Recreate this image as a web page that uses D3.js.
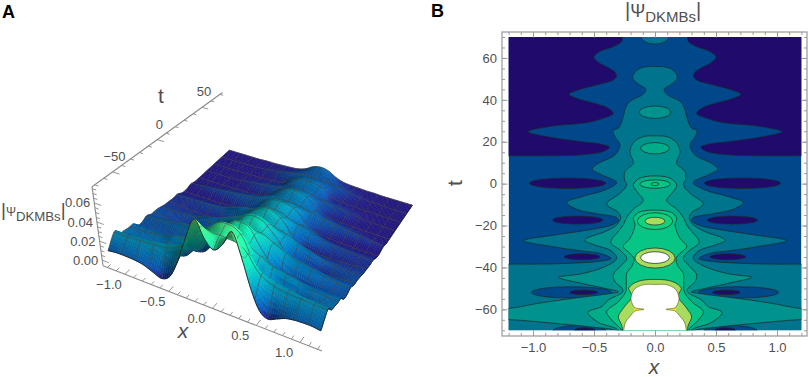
<!DOCTYPE html>
<html lang="en">
<head>
<meta charset="UTF-8">
<title>DKMBs surface and contour</title>
<script src="https://d3js.org/d3.v7.min.js"></script>
<style>
    body { margin: 0; background: #fff; font-family: "Liberation Sans", Arial, sans-serif; }
    text { fill: #505050; font-size: 13px; }
    .letter { fill: #000; font-weight: bold; font-size: 18px; }
    .axis text { fill: #505050; font-size: 13px; font-family: "Liberation Sans", Arial, sans-serif; }
    .axis line { stroke: #9a9a9a; }
    .contour { stroke: #1c2a2a; stroke-width: 0.9; stroke-opacity: 0.8; }
</style>
</head>
<body>
<svg width="809" height="377"></svg>
<script>
// surface heights, right half only (the picture is mirror symmetric in x)
const surfaceX = [0, 0.1, 0.2, 0.3, 0.4, 0.5, 0.6, 0.7, 0.8, 0.9, 1.0, 1.1, 1.2];
const surfaceT = [70, 65, 60, 55, 50, 45, 40, 35, 30, 25, 20, 15, 10, 5, 0, -5, -10, -15, -20, -25, -30, -35, -40, -45, -50, -55, -60, -65, -70];
const surfaceZ = [
    [.018, .016, .0105, .0075, .0065, .006, .0055, .0055, .005, .005, .005, .005, .005],
    [.015, .0145, .012, .0095, .0078, .0068, .006, .0058, .0055, .0052, .005, .005, .005],
    [.0145, .014, .013, .012, .0105, .0085, .0072, .0062, .0058, .0054, .005, .005, .005],
    [.0185, .018, .0145, .0105, .0082, .007, .0062, .0057, .0054, .0052, .005, .005, .005],
    [.0195, .019, .016, .0087, .0072, .0065, .006, .0057, .0055, .0052, .005, .005, .005],
    [.0175, .0165, .0135, .0118, .0105, .0095, .0082, .0072, .0062, .0056, .0052, .005, .005],
    [.02, .0195, .016, .0125, .0105, .0092, .0082, .0068, .0058, .0054, .005, .005, .005],
    [.026, .0245, .019, .0115, .0078, .0065, .0058, .0056, .0055, .0053, .0052, .005, .005],
    [.022, .0215, .0188, .0155, .0125, .011, .0095, .0085, .0075, .0065, .0058, .0052, .005],
    [.022, .0215, .0195, .0175, .0148, .013, .012, .0112, .0105, .0098, .009, .0078, .0065],
    [.027, .0265, .023, .0148, .0115, .0095, .0082, .007, .0062, .0058, .0055, .0052, .005],
    [.031, .0295, .0245, .0155, .0085, .0068, .006, .0058, .0057, .0056, .0055, .0055, .0055],
    [.029, .0275, .0225, .02, .0185, .0155, .0125, .011, .0102, .0096, .0092, .0088, .0085],
    [.0295, .0285, .0265, .0215, .018, .0145, .012, .0105, .0098, .0092, .0088, .0085, .0082],
    [.038, .035, .028, .0165, .0082, .0075, .0072, .0072, .0072, .0074, .0078, .0085, .009],
    [.033, .0325, .03, .0245, .0175, .0135, .012, .0108, .0102, .0098, .0095, .0095, .0095],
    [.0335, .0325, .0295, .0275, .0245, .021, .0185, .0155, .0125, .0115, .011, .011, .011],
    [.043, .041, .035, .0265, .016, .0115, .0098, .009, .0088, .0095, .0105, .0115, .012],
    [.044, .042, .034, .0258, .0145, .0115, .0105, .0098, .01, .0105, .011, .0115, .012],
    [.039, .039, .037, .0325, .0285, .0245, .0225, .021, .0195, .0178, .0165, .0155, .0145],
    [.044, .043, .04, .033, .0275, .0225, .02, .0182, .0165, .0148, .0135, .0128, .0125],
    [.052, .05, .037, .0255, .012, .0075, .0068, .0072, .0088, .0105, .0118, .0125, .0125],
    [.044, .043, .037, .031, .0245, .0215, .0205, .0195, .0188, .0182, .018, .0178, .0178],
    [.051, .049, .041, .035, .031, .0285, .0265, .0245, .021, .0195, .0185, .018, .018],
    [.062, .06, .05, .0295, .0245, .0155, .0135, .0135, .0148, .0165, .0178, .0185, .019],
    [.064, .062, .054, .0375, .0305, .0275, .025, .0232, .022, .021, .0205, .02, .02],
    [.06, .058, .055, .05, .039, .0335, .0305, .029, .028, .027, .0265, .026, .026],
    [.058, .062, .066, .05, .034, .025, .021, .0205, .0205, .021, .021, .021, .021],
    [.052, .06, .075, .055, .03, .012, .0065, .0095, .013, .0145, .015, .015, .014]
];

// panel B contour boundaries, [x, t] down the right side, mirrored when drawn
const topLobe = [[.266, 72], [.266, 70], [.274, 67.8], [.342, 65.4], [.452, 63.1], [.501, 60.4], [.466, 58], [.384, 55.4], [.329, 53.3], [.315, 51.4], [.342, 49.5], [.479, 47.1], [.63, 44.7], [.704, 42.7], [.644, 40.8], [.479, 38.1], [.384, 36], [.342, 33.6], [.425, 31.2], [.562, 29.1], [.836, 27.5], [1.041, 24.8], [.89, 22.5], [.616, 20.1], [.438, 18.8], [.375, 17.4], [.425, 15.3], [.616, 13.7], [.89, 13.3], [1.2, 13.3], [1.6, 13.3], [1.6, 74], [.266, 74]];
const band2 = [[0, 55.9], [.1, 55.5], [.16, 53.5], [.183, 50.4], [.14, 47.7], [.075, 45], [.1, 42.5], [.2, 39.5], [.235, 37], [.27, 30], [.3, 26.5], [.342, 25.4], [.33, 22.5], [.287, 18.5], [.328, 13.7], [.464, 9.7], [.514, 6.9], [.437, 4.2], [.314, .5], [.41, -3], [.6, -6.2], [.724, -9], [.642, -12.2], [.464, -14.5], [.314, -16.2], [.3, -17.7], [.355, -19.7], [.546, -22.1], [.82, -24.5], [1.077, -27.2], [.836, -30.1], [.616, -32], [.45, -33.3], [.36, -35.7], [.437, -36.9], [.683, -38], [.956, -38.4], [1.2, -38.4], [1.6, -38.4], [1.6, -74], [0, -74]];
const band3 = [[0, 22.8], [.1, 22.4], [.17, 20], [.2, 17], [.205, 14.5], [.178, 9.7], [.246, 5.8], [.25, 1.8], [.232, -.6], [.287, -4.6], [.396, -9.7], [.3, -13.8], [.281, -16.1], [.314, -19.7], [.41, -22.9], [.56, -26.1], [.575, -27.2], [.492, -29.3], [.355, -32.2], [.314, -35.7], [.41, -39.6], [.6, -43], [.792, -44.7], [.6, -47.6], [.41, -50], [.3, -51.6], [.41, -52.8], [.683, -54.8], [.956, -57.1], [1.2, -59.6], [1.6, -59.8], [1.6, -64.9], [1.2, -64.9], [.82, -66.7], [.546, -68.3], [.3, -70.7], [.28, -74], [0, -74]];
const band4 = [[0, 3.7], [.123, 2.6], [.178, -.6], [.137, -4.6], [.096, -8.1], [.178, -12.2], [.232, -16.1], [.26, -19.7], [.314, -23.7], [.355, -26.6], [.36, -28.5], [.287, -31.7], [.232, -35.7], [.287, -39.6], [.342, -43.6], [.328, -46.8], [.27, -50], [.265, -51.6], [.383, -55.6], [.437, -58.7], [.55, -61.5], [.464, -66.2], [.3, -69.9], [.273, -74], [0, -74]];
const band5 = [[0, -12.6], [.137, -13.8], [.178, -16.5], [.164, -19.7], [.205, -26.1], [.26, -30], [.205, -33.3], [.172, -35.7], [.191, -39.6], [.232, -42.8], [.235, -46], [.235, -48.4], [.24, -51.6], [.3, -56.3], [.396, -61.1], [.355, -65.1], [.273, -69.9], [.255, -74], [0, -74]];
const band7 = [[0, -45.7], [.11, -46.2], [.18, -47.8], [.215, -50], [.2, -52], [.19, -54], [.26, -59.5], [.3, -63.5], [.273, -67.5], [.24, -74], [0, -74]];
const whiteTop = [[0, -48.1], [.1, -48.3], [.17, -50.5], [.197, -54.7], [.185, -57.5], [.165, -59.2], [.09, -60], [.165, -60.8], [.2, -63], [.246, -66.7], [.24, -74], [0, -74]];
const spike = [[.09, -60], [.165, -58.8], [.175, -61.2]];

// closed islands: level, centre x, centre t, half width in x, half height in t
const islands = [
    [0, .717, .2, .313, 2.5], [0, .634, -17.4, .205, 1.9], [0, .597, -34.9, .146, 1.4],
    [2, 0, 71, .12, 4.4],
    [1, .685, -51.9, .329, 2.7], [1, .62, -70.5, .22, 2.8],
    [0, .584, -51.9, .114, 1.1], [0, .575, -70, .085, 1.2],
    [3, 0, 34.1, .13, 3], [4, 0, 16.9, .118, 2.7], [5, 0, -.2, .125, 2], [6, 0, -.2, .033, .7],
    [6, 0, -17.9, .145, 4], [7, 0, -17.9, .082, 1.85], [7, 0, -35.5, .165, 4.8], [9, 0, -35.3, .118, 2.8]
];
const bandColors = ["#200a6c", "#00488a", "#00748c", "#00928c", "#00ad88", "#06c585", "#14d27c", "#a9dc5c", "#f7e41a", "#ffffff"];

const xTicksB = [-1, -0.5, 0, 0.5, 1];
const xMinorB = d3.range(-12, 13).map(d => d / 10);
const tTicksB = [-60, -40, -20, 0, 20, 40, 60];
const tMinorB = d3.range(-70, 71, 5);

const xTicksA = [-1, -0.5, 0, 0.5, 1];
const tTicksA = [-50, 0, 50];
const zTicksA = [0, 0.02, 0.04, 0.06];
const rampZ = [0, .006, .012, .02, .03, .045, .06, .08];
const rampColors = ["#1a0a70", "#221a84", "#0b4a9c", "#006ca8", "#0092ac", "#0cc8a0", "#28d88c", "#98d858"];

const svg = d3.select("svg");
const minus = s => s.replace("-", "\u2212");

svg.append("text").attr("class", "letter").attr("x", 2).attr("y", 17.5).text("A");
svg.append("text").attr("class", "letter").attr("x", 431).attr("y", 17).text("B");

// ---------- panel B ----------
const x = d3.scaleLinear().domain([-1.2, 1.2]).range([508.6, 801.4]);
const t = d3.scaleLinear().domain([-70, 70]).range([330.3, 37]);
const frame = { left: 502, right: 807, top: 32, bottom: 336 };

const b = svg.append("g");
b.append("clipPath").attr("id", "plot").append("rect")
    .attr("x", x(-1.2)).attr("y", t(70))
    .attr("width", x(1.2) - x(-1.2)).attr("height", t(-70) - t(70));

const plot = b.append("g").attr("clip-path", "url(#plot)");
plot.append("rect").attr("x", x(-1.2)).attr("y", t(70))
    .attr("width", x(1.2) - x(-1.2)).attr("height", t(-70) - t(70))
    .attr("fill", bandColors[1]);

const line = d3.line().x(d => x(d[0])).y(d => t(d[1])).curve(d3.curveCatmullRomClosed.alpha(0.5));
const flip = pts => pts.map(d => [-d[0], d[1]]);
const mirror = pts => pts.concat(flip(pts.filter(d => d[0] > 0)).reverse());

function band(pts, level) {
    plot.append("path").attr("class", "contour").attr("d", line(pts)).attr("fill", bandColors[level]);
}
function island(d) {
    const sides = d[1] === 0 ? [0] : [d[1], -d[1]];
    sides.forEach(c => plot.append("ellipse").attr("class", "contour")
        .attr("cx", x(c)).attr("cy", t(d[2]))
        .attr("rx", x(d[3]) - x(0)).attr("ry", t(0) - t(d[4]))
        .attr("fill", bandColors[d[0]]));
}

band(topLobe, 0);
band(flip(topLobe), 0);
islands.slice(0, 3).forEach(island);
band(mirror(band2), 2);
islands.slice(3, 8).forEach(island);
band(mirror(band3), 3);
island(islands[8]);
band(mirror(band4), 4);
island(islands[9]);
band(mirror(band5), 5);
islands.slice(10, 15).forEach(island);
band(mirror(band7), 7);
[spike, flip(spike)].forEach(s => plot.append("path").attr("d", d3.line().x(d => x(d[0])).y(d => t(d[1]))(s) + "Z").attr("fill", bandColors[8]));
island(islands[15]);
plot.append("path").attr("d", line(mirror(whiteTop))).attr("fill", "#fff")
    .attr("stroke", "#6a6a20").attr("stroke-width", 0.7);

b.append("rect").attr("x", frame.left).attr("y", frame.top)
    .attr("width", frame.right - frame.left).attr("height", frame.bottom - frame.top)
    .attr("fill", "none").attr("stroke", "#a0a0a0").attr("stroke-width", 1.3);

const fmt1 = d => minus(d3.format(".1f")(d));
const fmtT = d => minus(String(d));
function bTicks(axisFn, scale, vals, size, pos, format) {
    return b.append("g").attr("class", "axis").attr("transform", pos)
        .call(axisFn(scale).tickValues(vals).tickSize(size).tickSizeOuter(0).tickFormat(format))
        .call(g => g.select(".domain").remove());
}
const none = () => "";
bTicks(d3.axisBottom, x, xMinorB, -3, `translate(0,${frame.bottom})`, none);
bTicks(d3.axisBottom, x, xTicksB, -5.5, `translate(0,${frame.bottom})`, fmt1).selectAll("text").attr("y", 7);
bTicks(d3.axisTop, x, xMinorB, -3, `translate(0,${frame.top})`, none);
bTicks(d3.axisTop, x, xTicksB, -5.5, `translate(0,${frame.top})`, none);
bTicks(d3.axisLeft, t, tMinorB, -3, `translate(${frame.left},0)`, none);
bTicks(d3.axisLeft, t, tTicksB, -5.5, `translate(${frame.left},0)`, fmtT).selectAll("text").attr("x", -5);
bTicks(d3.axisRight, t, tMinorB, -3, `translate(${frame.right},0)`, none);
bTicks(d3.axisRight, t, tTicksB, -5.5, `translate(${frame.right},0)`, none);

svg.append("text").attr("x", 654).attr("y", 374).attr("text-anchor", "middle")
    .style("font-size", "21px").style("font-style", "italic").text("x");
svg.append("text").attr("transform", "translate(462,183) rotate(-90)").attr("text-anchor", "middle")
    .style("font-size", "21px").text("t");

function psiLabel(px, py, bar, psi, sub) {
    const l = svg.append("text").attr("x", px).attr("y", py);
    l.append("tspan").style("font-size", bar + "px").text("|");
    l.append("tspan").style("font-size", psi + "px").text("\u03a8");
    l.append("tspan").style("font-size", sub + "px").attr("dy", 5).text("DKMBs");
    l.append("tspan").style("font-size", bar + "px").attr("dy", -5).text("|");
}
psiLabel(625, 17, 20, 18, 15);
psiLabel(1, 216, 19, 12, 13.2);

// ---------- panel A ----------
const uScale = d3.scaleLinear().domain([-1.25, 1.25]).range([0, 1]);
const vScale = d3.scaleLinear().domain([-73, 73]).range([0, 1]);
const wScale = d3.scaleLinear().domain([0, 0.076]).range([0, 1]);
// the box runs a little below zero, its ticks use this one
const wAxis = d3.scaleLinear().domain([-0.0058, 0.0771]).range([0, 1]);

// floor corners of the box and the height vector over each of them
const floorC = { fl: [103, 265.7], fr: [322, 351], br: [417.5, 207.5], bl: [228.5, 150.5] };
const liftC = { fl: [-11, -79], fr: [7, -85], br: [10, -62], bl: [-6, -58] };
function blend(c, u, v) {
    const f = k => (1 - u) * (1 - v) * c.fl[k] + u * (1 - v) * c.fr[k] + u * v * c.br[k] + (1 - u) * v * c.bl[k];
    return [f(0), f(1)];
}
function toScreen(u, v, w) {
    const f = blend(floorC, u, v), l = blend(liftC, u, v);
    return [f[0] + l[0] * w, f[1] + l[1] * w];
}
const project = (px, pt, pz) => toScreen(uScale(px), vScale(pt), wScale(pz));
const boxPoint = (u, v, w) => toScreen(u, v, w);

const cubic = (a, b, c, d, f) => b + 0.5 * f * (c - a + f * (2 * a - 5 * b + 4 * c - d + f * (3 * (b - c) + d - a)));
function surf(px, pt) {
    const ax = Math.abs(px) * 10, rt = (70 - pt) / 5;
    const i = Math.min(Math.floor(ax), 11), j = Math.min(Math.floor(rt), 27);
    const col = k => k < 0 ? -k : Math.min(k, 12);
    const rowVal = r => {
        const row = surfaceZ[Math.max(0, Math.min(surfaceT.length - 1, r))];
        return cubic(row[col(i - 1)], row[col(i)], row[col(i + 1)], row[col(i + 2)], ax - i);
    };
    return Math.max(0.002, cubic(rowVal(j - 1), rowVal(j), rowVal(j + 1), rowVal(j + 2), rt - j));
}

const ramp = d3.scaleLinear().domain(rampZ).range(rampColors).clamp(true);
const N = 96, meshEvery = 6;
const xAt = i => -1.2 + 2.4 * i / N;
const tAt = j => -70 + 140 * j / N;

function shade(px, pt, pz) {
    const e = 0.01, et = 0.5;
    const nx = -(surf(px + e, pt) - surf(px - e, pt)) / (2 * e) * 1050 / 90;
    const nt = -(surf(px, pt + et) - surf(px, pt - et)) / (2 * et) * 1050 / 120;
    const len = Math.hypot(nx, nt, 1);
    const lit = (0.75 * nx - 0.35 * nt + 0.55) / len;
    const c = d3.rgb(ramp(pz)), k = 0.6 + 0.65 * Math.max(0, lit);
    return d3.rgb(Math.min(255, c.r * k), Math.min(255, c.g * k), Math.min(255, c.b * k)).formatRgb();
}

const a = svg.append("g");
const polyLine = d3.line();
function segment(x0, t0, x1, t1) {
    return polyLine([[x0, t0], [x1, t1]].map(d => project(d[0], d[1], surf(d[0], d[1]))));
}
const surfaceG = a.append("g");
for (let j = N - 1; j >= 0; j--) {
    const mesh = [];
    for (let i = 0; i < N; i++) {
        const x0 = xAt(i), x1 = xAt(i + 1), t0 = tAt(j), t1 = tAt(j + 1);
        const mx = (x0 + x1) / 2, mt = (t0 + t1) / 2;
        const pts = [[x0, t0], [x1, t0], [x1, t1], [x0, t1]].map(d => project(d[0], d[1], surf(d[0], d[1])));
        const fill = shade(mx, mt, surf(mx, mt));
        surfaceG.append("path").attr("d", polyLine(pts) + "Z")
            .attr("fill", fill).attr("stroke", fill).attr("stroke-width", 0.5);
        if (i % meshEvery === 0) mesh.push(segment(x0, t0, x0, t1));
        if ((j + 1) % meshEvery === 0) mesh.push(segment(x0, t1, x1, t1));
    }
    // a finished row can no longer paint over its own mesh
    surfaceG.append("path").attr("d", mesh.join(""))
        .attr("fill", "none").attr("stroke", "#4a4a42").attr("stroke-width", 0.75).attr("stroke-opacity", 0.85);
}
// near edges stay on top
const frontEdge = d3.range(0, N + 1).map(i => project(xAt(i), -70, surf(xAt(i), -70)));
const rightEdge = d3.range(0, N + 1).map(j => project(1.2, tAt(j), surf(1.2, tAt(j))));
a.append("path").attr("d", polyLine(frontEdge)).attr("fill", "none").attr("stroke", "#15202a").attr("stroke-width", 0.9);
a.append("path").attr("d", polyLine(rightEdge)).attr("fill", "none").attr("stroke", "#15202a").attr("stroke-width", 0.9);

// box axes
function axisStroke(p0, p1, w) {
    a.append("line").attr("x1", p0[0]).attr("y1", p0[1]).attr("x2", p1[0]).attr("y2", p1[1])
        .attr("stroke", "#8a8a8a").attr("stroke-width", w);
}
axisStroke(boxPoint(0, 0, 0), boxPoint(1, 0, 0), 1.1);
axisStroke(boxPoint(0, 0, 0), boxPoint(0, 0, 1), 1.1);
axisStroke(boxPoint(0, 0, 1), boxPoint(0, 1, 1), 1.1);

d3.range(-12, 13).forEach(d => {
    const u = uScale(d / 10), major = d % 5 === 0;
    axisStroke(boxPoint(u, 0, 0), boxPoint(u, major ? 0.04 : 0.025, 0), 0.9);
});
d3.range(-70, 71, 10).forEach(d => {
    const v = vScale(d), major = d % 50 === 0;
    axisStroke(boxPoint(0, v, 1), boxPoint(major ? 0.03 : 0.016, v, 1), 0.9);
});
d3.range(0, 0.0751, 0.005).forEach(d => {
    const w = wAxis(d), major = Math.round(d * 1000) % 20 === 0;
    axisStroke(boxPoint(0, 0, w), boxPoint(major ? 0.03 : 0.016, 0, w), 0.9);
});

xTicksA.forEach(d => {
    const p = boxPoint(uScale(d), 0, 0);
    a.append("text").attr("x", p[0] - 16).attr("y", p[1] + 14.5).attr("text-anchor", "middle").text(fmt1(d));
});
tTicksA.forEach(d => {
    const p = boxPoint(0, vScale(d), 1);
    a.append("text").attr("x", p[0] + 2).attr("y", p[1] - 11).attr("text-anchor", "middle").text(minus(String(d)));
});
zTicksA.forEach(d => {
    const p = boxPoint(0, 0, wAxis(d));
    a.append("text").attr("x", p[0] - 4).attr("y", p[1] + 4.5).attr("text-anchor", "end").text(d3.format(".2f")(d));
});
a.append("text").attr("x", 161).attr("y", 103).attr("text-anchor", "middle").style("font-size", "21px").text("t");
a.append("text").attr("x", 183).attr("y", 338).attr("text-anchor", "middle")
    .style("font-size", "21px").style("font-style", "italic").text("x");
</script>
</body>
</html>
